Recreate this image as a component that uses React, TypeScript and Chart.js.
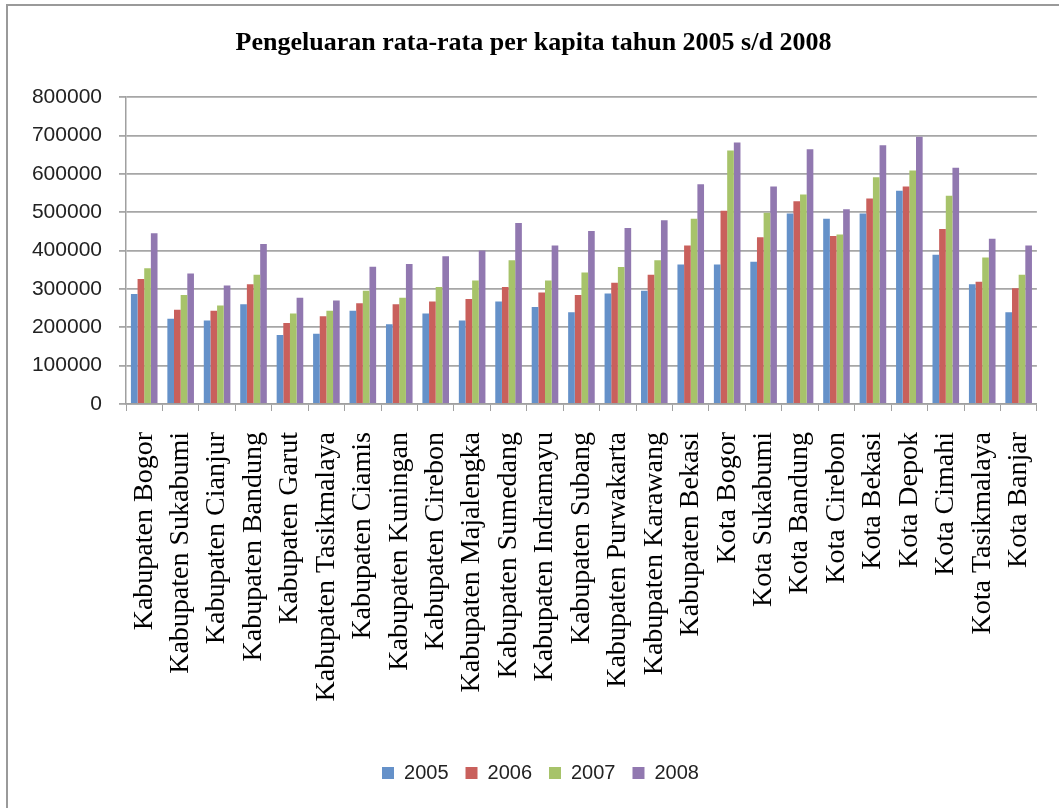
import React, { useEffect, useRef } from "react";
import { Chart, registerables } from "chart.js";

Chart.register(...registerables);

const categories = [
  "Kabupaten Bogor",
  "Kabupaten Sukabumi",
  "Kabupaten Cianjur",
  "Kabupaten Bandung",
  "Kabupaten Garut",
  "Kabupaten Tasikmalaya",
  "Kabupaten Ciamis",
  "Kabupaten Kuningan",
  "Kabupaten Cirebon",
  "Kabupaten Majalengka",
  "Kabupaten Sumedang",
  "Kabupaten Indramayu",
  "Kabupaten Subang",
  "Kabupaten Purwakarta",
  "Kabupaten Karawang",
  "Kabupaten Bekasi",
  "Kota Bogor",
  "Kota Sukabumi",
  "Kota Bandung",
  "Kota Cirebon",
  "Kota Bekasi",
  "Kota Depok",
  "Kota Cimahi",
  "Kota Tasikmalaya",
  "Kota Banjar",
];

const v2005 = [287000, 222000, 218000, 260000, 180000, 183000, 243000, 208000, 236000, 218000, 267000, 253000, 239000, 288000, 295000, 364000, 364000, 371000, 497000, 483000, 497000, 556000, 389000, 312000, 239000];
const v2006 = [326000, 246000, 243000, 312000, 211000, 229000, 263000, 260000, 267000, 274000, 305000, 291000, 284000, 316000, 337000, 413000, 504000, 435000, 529000, 438000, 536000, 567000, 456000, 319000, 302000];
const v2007 = [354000, 284000, 257000, 337000, 236000, 243000, 295000, 277000, 305000, 322000, 375000, 322000, 343000, 357000, 375000, 483000, 661000, 499000, 546000, 442000, 591000, 609000, 543000, 382000, 337000];
const v2008 = [445000, 340000, 309000, 417000, 277000, 270000, 358000, 365000, 385000, 400000, 472000, 413000, 451000, 459000, 479000, 573000, 682000, 567000, 664000, 508000, 675000, 697000, 616000, 431000, 413000];

const seriesNames = ["2005", "2006", "2007", "2008"];
const seriesColors = ["#6591c9", "#c9605c", "#a7c36a", "#9178b0"];

const yMin = 0;
const yMax = 800000;
const yStep = 100000;

const title = "Pengeluaran rata-rata per kapita tahun 2005 s/d 2008";

const legendShift = {
  id: "legendShift",
  afterLayout(chart: any) {
    const lg = chart.legend;
    if (lg) {
      lg.left += 7;
      lg.right += 7;
    }
  },
};

export default function App() {
  const canvasRef = useRef<HTMLCanvasElement | null>(null);

  useEffect(() => {
    if (!canvasRef.current) return;
    const values = [v2005, v2006, v2007, v2008];
    const chart = new Chart(canvasRef.current, {
      type: "bar",
      data: {
        labels: categories,
        datasets: values.map((d, i) => ({
          label: seriesNames[i],
          data: d,
          backgroundColor: seriesColors[i],
          borderWidth: 0,
          categoryPercentage: 0.73,
          barPercentage: 1.0,
        })),
      },
      options: {
        responsive: false,
        animation: false,
        layout: { padding: { left: 30, right: 37, top: 0, bottom: 15 } },
        plugins: {
          title: {
            display: true,
            text: title,
            color: "#000",
            font: { family: "'Liberation Serif', 'Times New Roman', serif", size: 26, weight: "bold" },
            padding: { top: 28, bottom: 38 },
          },
          legend: {
            position: "bottom",
            labels: {
              boxWidth: 12,
              boxHeight: 12,
              padding: 17,
              color: "#222",
              font: { family: "'Liberation Sans', Arial, sans-serif", size: 20 },
            },
          },
          tooltip: { enabled: false },
        },
        scales: {
          x: {
            offset: true,
            grid: {
              display: true,
              offset: true,
              drawOnChartArea: false,
              drawTicks: true,
              tickLength: 7,
              color: "#a0a0a0",
              lineWidth: 1,
            },
            border: { display: true, color: "#a0a0a0", width: 1.5 },
            ticks: {
              autoSkip: false,
              minRotation: 90,
              maxRotation: 90,
              padding: 21,
              color: "#000",
              font: { family: "'Liberation Serif', 'Times New Roman', serif", size: 28 },
            },
            afterFit: (scale: any) => {
              scale.height = 342;
            },
          },
          y: {
            min: yMin,
            max: yMax,
            ticks: {
              stepSize: yStep,
              padding: 17,
              color: "#222",
              font: { family: "'Liberation Sans', Arial, sans-serif", size: 21 },
              callback: (v: any) => String(v),
            },
            grid: {
              color: "#a6a6a6",
              lineWidth: 1.8,
              tickLength: 7,
            },
            border: { display: true, color: "#a0a0a0", width: 1.5 },
            afterFit: (scale: any) => {
              scale.width = 96;
            },
          },
        },
      },
      plugins: [legendShift],
    });
    return () => chart.destroy();
  }, []);

  return (
    <div style={{ position: "absolute", left: 0, top: 0, width: 1059, height: 808, overflow: "hidden", background: "#fff" }}>
      <div
        style={{
          position: "absolute",
          left: 6,
          top: 4,
          width: 1100,
          height: 900,
          borderLeft: "2px solid #9a9a9a",
          borderTop: "2px solid #9a9a9a",
        }}
      />
      <canvas ref={canvasRef} width={1074} height={808} style={{ position: "absolute", left: 0, top: 0 }} />
    </div>
  );
}
